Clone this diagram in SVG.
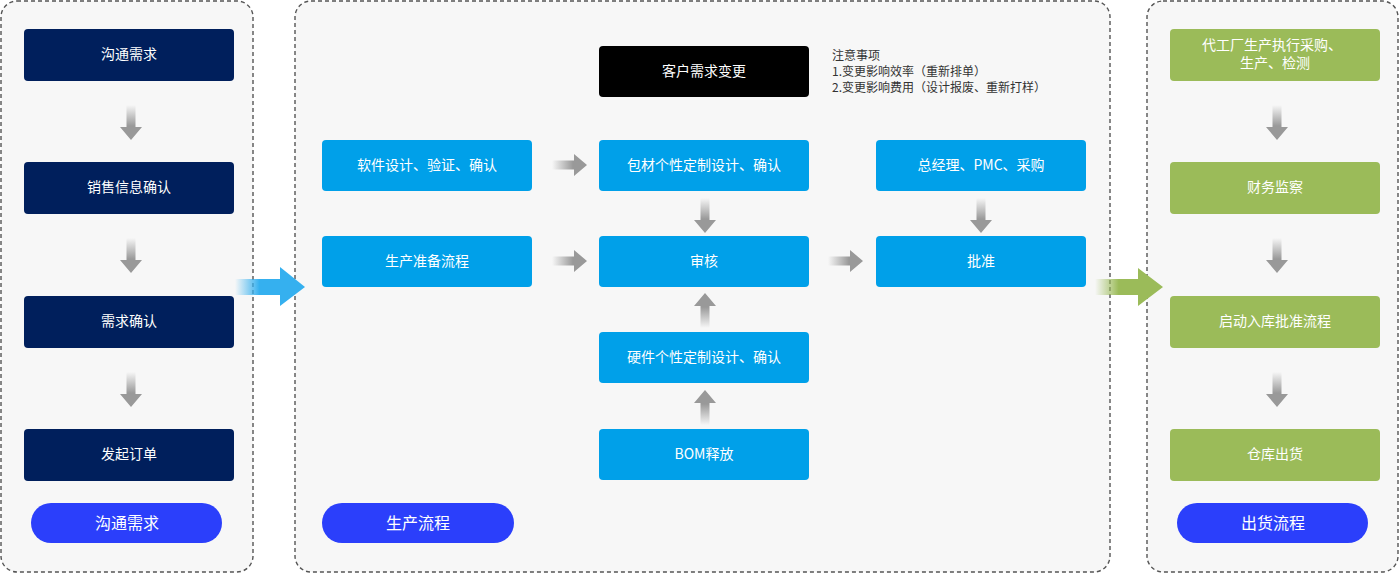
<svg xmlns="http://www.w3.org/2000/svg" xmlns:xlink="http://www.w3.org/1999/xlink" width="1400" height="574" viewBox="0 0 1400 574">
<style>
.panel{fill:#f7f7f7;stroke:#555;stroke-width:1.4;stroke-dasharray:4 3}
.navy{fill:#001f5c}
.blue{fill:#00a0e9}
.green{fill:#9bbb59}
.black{fill:#000}
.pill{fill:#2b3ffb}
text{font-family:"Noto Sans CJK SC","Noto Sans",sans-serif;fill:#fff;text-anchor:middle}
.t{font-size:14px}
.p{font-size:16px}
.note{font-size:12px;fill:#333;text-anchor:start}
</style>
<defs>
<linearGradient id="gDown" x1="0" y1="0" x2="0" y2="1">
<stop offset="0" stop-color="#999" stop-opacity="0"/>
<stop offset="0.6" stop-color="#999"/>
<stop offset="1" stop-color="#999"/>
</linearGradient>
<linearGradient id="gBlue" x1="0" y1="0" x2="1" y2="0">
<stop offset="0" stop-color="#35b0ef" stop-opacity="0"/>
<stop offset="0.35" stop-color="#35b0ef"/>
<stop offset="1" stop-color="#35b0ef"/>
</linearGradient>
<linearGradient id="gGreen" x1="0" y1="0" x2="1" y2="0">
<stop offset="0" stop-color="#9bbb59" stop-opacity="0"/>
<stop offset="0.35" stop-color="#9bbb59"/>
<stop offset="1" stop-color="#9bbb59"/>
</linearGradient>
<path id="arrowDown" d="M-4.5,0 H4.5 V22 H11 L0,35 L-11,22 H-4.5 Z"/>
</defs>
<rect width="1400" height="574" fill="#fff"/>
<g id="panels">
<rect class="panel" x="1" y="1" width="252" height="571" rx="16"/>
<rect class="panel" x="295" y="1" width="815" height="571" rx="16"/>
<rect class="panel" x="1147" y="1" width="251" height="571" rx="16"/>
</g>
<g id="connectors">
<use xlink:href="#arrowDown" fill="url(#gDown)" transform="translate(131,105)"/>
<use xlink:href="#arrowDown" fill="url(#gDown)" transform="translate(131,238)"/>
<use xlink:href="#arrowDown" fill="url(#gDown)" transform="translate(131,372)"/>
<use xlink:href="#arrowDown" fill="url(#gDown)" transform="translate(1277,105)"/>
<use xlink:href="#arrowDown" fill="url(#gDown)" transform="translate(1277,238)"/>
<use xlink:href="#arrowDown" fill="url(#gDown)" transform="translate(1277,372)"/>
<use xlink:href="#arrowDown" fill="url(#gDown)" transform="translate(705,198)"/>
<use xlink:href="#arrowDown" fill="url(#gDown)" transform="translate(981,198)"/>
<use xlink:href="#arrowDown" fill="url(#gDown)" transform="translate(705,328) rotate(180)"/>
<use xlink:href="#arrowDown" fill="url(#gDown)" transform="translate(705,425) rotate(180)"/>
<use xlink:href="#arrowDown" fill="url(#gDown)" transform="translate(552,165) rotate(-90)"/>
<use xlink:href="#arrowDown" fill="url(#gDown)" transform="translate(552,261) rotate(-90)"/>
<use xlink:href="#arrowDown" fill="url(#gDown)" transform="translate(828,261) rotate(-90)"/>
<path d="M235,279 H280 V267 L305,287 L280,306 V295 H235 Z" fill="url(#gBlue)"/>
<path d="M1095,279 H1138 V268 L1163,287 L1138,306 V295 H1095 Z" fill="url(#gGreen)"/>
</g>
<g id="n1"><rect class="navy" x="24" y="29" width="210" height="52" rx="4"/><text class="t" x="129" y="59">沟通需求</text></g>
<g id="n2"><rect class="navy" x="24" y="162" width="210" height="52" rx="4"/><text class="t" x="129" y="192">销售信息确认</text></g>
<g id="n3"><rect class="navy" x="24" y="296" width="210" height="52" rx="4"/><text class="t" x="129" y="326">需求确认</text></g>
<g id="n4"><rect class="navy" x="24" y="429" width="210" height="52" rx="4"/><text class="t" x="129" y="459">发起订单</text></g>
<g id="pill1"><rect class="pill" x="31" y="503" width="191" height="40" rx="20"/><text class="p" x="127" y="529">沟通需求</text></g>
<g id="m0"><rect class="black" x="599" y="46" width="210" height="51" rx="4"/><text class="t" x="704" y="76">客户需求变更</text></g>
<g id="note"><text class="note" x="832" y="60">注意事项</text><text class="note" x="832" y="76">1.变更影响效率（重新排单）</text><text class="note" x="832" y="92">2.变更影响费用（设计报废、重新打样）</text></g>
<g id="m1"><rect class="blue" x="322" y="140" width="210" height="51" rx="4"/><text class="t" x="427" y="170">软件设计、验证、确认</text></g>
<g id="m2"><rect class="blue" x="599" y="140" width="210" height="51" rx="4"/><text class="t" x="704" y="170">包材个性定制设计、确认</text></g>
<g id="m3"><rect class="blue" x="876" y="140" width="210" height="51" rx="4"/><text class="t" x="981" y="170">总经理、PMC、采购</text></g>
<g id="m4"><rect class="blue" x="322" y="236" width="210" height="51" rx="4"/><text class="t" x="427" y="266">生产准备流程</text></g>
<g id="m5"><rect class="blue" x="599" y="236" width="210" height="51" rx="4"/><text class="t" x="704" y="266">审核</text></g>
<g id="m6"><rect class="blue" x="876" y="236" width="210" height="51" rx="4"/><text class="t" x="981" y="266">批准</text></g>
<g id="m7"><rect class="blue" x="599" y="332" width="210" height="51" rx="4"/><text class="t" x="704" y="362">硬件个性定制设计、确认</text></g>
<g id="m8"><rect class="blue" x="599" y="429" width="210" height="51" rx="4"/><text class="t" x="704" y="459">BOM释放</text></g>
<g id="pill2"><rect class="pill" x="322" y="503" width="192" height="40" rx="20"/><text class="p" x="418" y="529">生产流程</text></g>
<g id="r1"><rect class="green" x="1170" y="29" width="210" height="52" rx="4"/><text class="t" x="1272" y="50">代工厂生产执行采购、</text><text class="t" x="1275" y="68">生产、检测</text></g>
<g id="r2"><rect class="green" x="1170" y="162" width="210" height="52" rx="4"/><text class="t" x="1275" y="192">财务监察</text></g>
<g id="r3"><rect class="green" x="1170" y="296" width="210" height="52" rx="4"/><text class="t" x="1275" y="326">启动入库批准流程</text></g>
<g id="r4"><rect class="green" x="1170" y="429" width="210" height="52" rx="4"/><text class="t" x="1275" y="459">仓库出货</text></g>
<g id="pill3"><rect class="pill" x="1177" y="503" width="191" height="40" rx="20"/><text class="p" x="1273" y="529">出货流程</text></g>
</svg>
